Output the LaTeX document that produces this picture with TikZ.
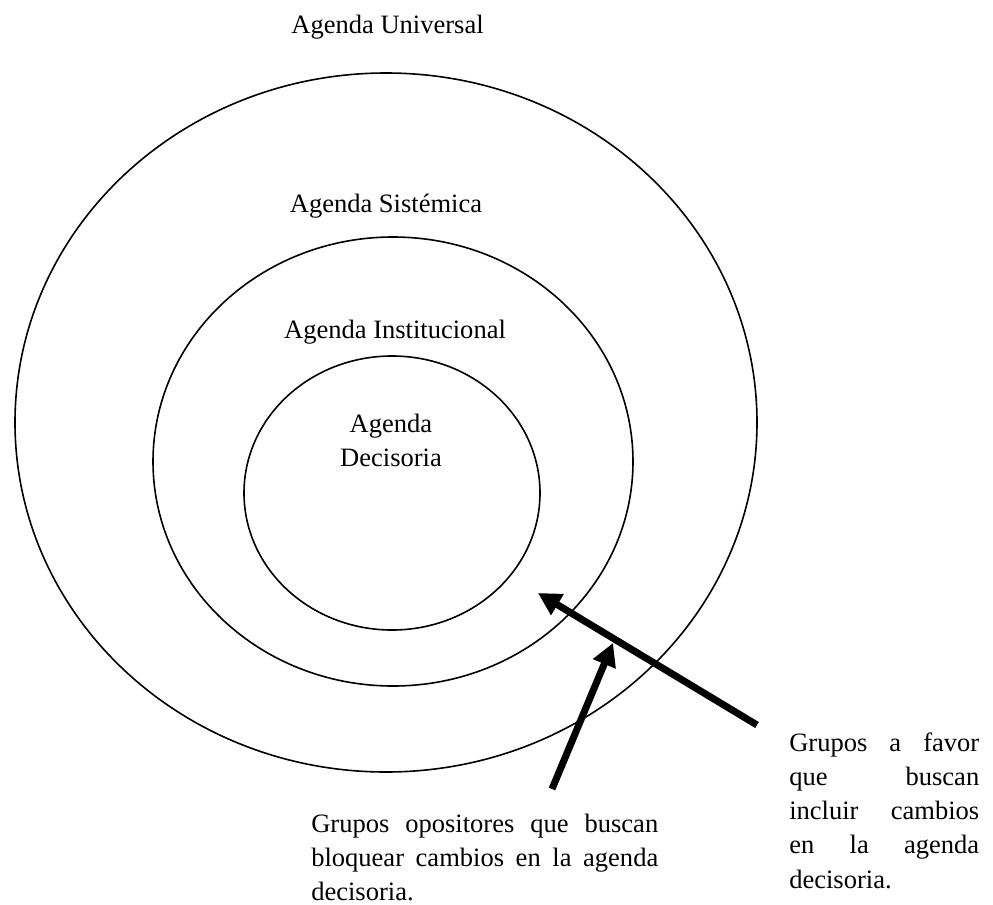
\documentclass[tikz,border=0pt]{standalone}
\usepackage{fontspec}
\setmainfont{Liberation Serif}
\usetikzlibrary{arrows.meta,shapes.geometric}

\tikzset{
  ring/.style={draw, ellipse, inner sep=0pt, line width=1.2pt},
  ringlabel/.style={anchor=base, inner sep=0pt, font=\fontsize{19.9pt}{25.7pt}\selectfont},
  groupnote/.style={anchor=base west, inner sep=0pt},
  push/.style={line width=5.25pt, -{Triangle[length=17pt,width=17.5pt]}}
}

% justified note with forced line breaks
\newcommand{\notebox}[2]{%
  \parbox[t]{#1}{\fontsize{19.9pt}{25.7pt}\selectfont
    \tolerance=10000 \hyphenpenalty=10000 \hbadness=10000 #2}}

\begin{document}
\begin{tikzpicture}[x=0.75pt, y=-0.75pt]
  \useasboundingbox (0,0) rectangle (993,904);

  % nested agendas
  \node[ring, minimum width=556.5pt, minimum height=524.25pt] (universal) at (386,422.5) {};
  \node[ring, minimum width=360pt, minimum height=336.75pt] (sistemica) at (393,461.5) {};
  \node[ring, minimum width=222pt, minimum height=205.5pt] (decisoria) at (392,493) {};

  \node[ringlabel] (lbluni) at (387.5,33) {Agenda Universal};
  \node[ringlabel] (lblsis) at (386,212) {Agenda Sistémica};
  \node[ringlabel] (lblins) at (395,338) {Agenda Institucional};
  \node[ringlabel] (lbldec) at (391,432) {\parbox[t]{4cm}{\centering Agenda\\Decisoria}};

  % group descriptions
  \node[groupnote] (opos) at (311,832)
    {\notebox{260.25pt}{Grupos opositores que buscan\linebreak
      bloquear cambios en la agenda\linebreak decisoria.}};
  \node[groupnote] (favor) at (789,751)
    {\notebox{142.5pt}{Grupos a favor\linebreak que buscan\linebreak
      incluir cambios\linebreak en la agenda\linebreak decisoria.}};

  % arrow ends
  \coordinate (favortail) at (757,725);
  \coordinate (favortip)  at (538,593);
  \coordinate (opostail)  at (552,789);
  \coordinate (opostip)   at (613,643);

  \draw[push] (favortail) -- (favortip);
  \draw[push] (opostail) -- (opostip);
\end{tikzpicture}
\end{document}
